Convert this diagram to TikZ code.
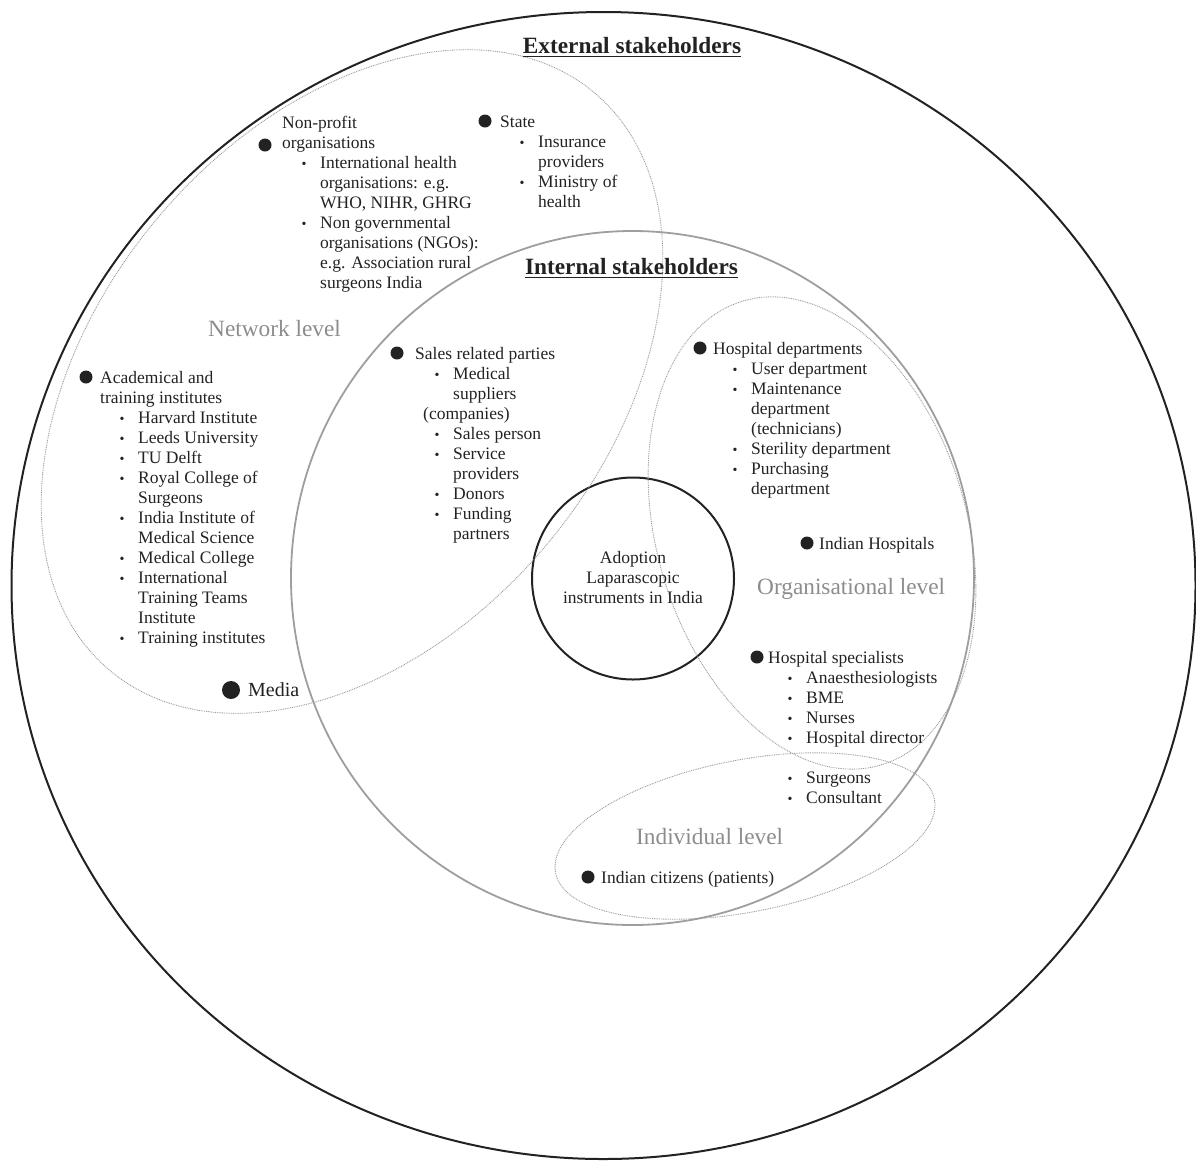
\documentclass[tikz,border=0pt]{standalone}
\usepackage{fontspec}
\setmainfont{Liberation Serif}
\definecolor{ink}{HTML}{222222}
\definecolor{levelgray}{HTML}{8C8C8C}
\definecolor{ringgray}{HTML}{9E9E9E}
\definecolor{dotgray}{HTML}{9C9C9C}
% small list bullet and indentation helpers
\newcommand\smallbullet{\raisebox{0pt}{\fontsize{14}{14}\selectfont\textbullet}}
\newcommand\itm{\strut\hspace*{19.5pt}\makebox[18.5pt][l]{\smallbullet}}
\newcommand\contline{\strut\hspace*{38pt}}
\begin{document}
\begin{tikzpicture}[x=1pt,y=-1pt,
  body/.style={font=\fontsize{17.5}{20}\selectfont, text=ink, inner sep=0pt, align=left, anchor=north west},
  single/.style={font=\fontsize{17.5}{20}\selectfont, text=ink, inner sep=0pt, anchor=base west},
  heading/.style={font=\fontsize{23.3}{26}\selectfont\bfseries, text=ink, inner sep=0pt, anchor=base},
  level/.style={font=\fontsize{23.3}{26}\selectfont, text=levelgray, inner sep=0pt, anchor=base west},
  dot/.style={circle, fill=ink, inner sep=0pt, minimum size=13pt},
  ring/.style={line width=2pt, draw=ink},
  zone/.style={draw=dotgray, line width=0.9pt, dash pattern=on 0.9pt off 0.9pt}
]
\useasboundingbox (0,0) rectangle (1196,1160);

% outer ring: external stakeholders
\draw[ring] (603.5,585.5) ellipse [x radius=592pt, y radius=573.5pt];
% internal stakeholders ring
\draw[draw=ringgray, line width=1.8pt] (632.5,578) ellipse [x radius=341.5pt, y radius=347pt];
% core
\draw[ring] (633,578.5) circle [radius=101pt];

% level zones
\draw[zone, rotate around={50:(352,381.5)}] (352,381.5) ellipse [x radius=377pt, y radius=254pt];
\draw[zone, rotate around={-73.4:(812,533)}] (812,533) ellipse [x radius=242pt, y radius=155pt];
\draw[zone, rotate around={11:(745,836)}] (745,836) ellipse [x radius=193pt, y radius=76pt];

% headings
\node[heading] (ext) at (632,53.5) {External stakeholders};
\draw[ink, line width=1.6pt] ([yshift=-3pt]ext.base west) -- ([yshift=-3pt]ext.base east);
\node[heading] (int) at (631.5,274.5) {Internal stakeholders};
\draw[ink, line width=1.6pt] ([yshift=-3pt]int.base west) -- ([yshift=-3pt]int.base east);

% level labels
\node[level] (netlvl) at (208,336.5) {Network level};
\node[level] (orglvl) at (757,594.5) {Organisational level};
\node[level] (indlvl) at (636,844.5) {Individual level};

% core text
\node[font=\fontsize{17.5}{20}\selectfont, text=ink, inner sep=0pt, align=center] (core) at (633,579)
  {\strut Adoption\\\strut Laparascopic\\\strut instruments in India};

% non-profit organisations
\node[dot] (npdot) at (265,145) {};
\node[body] (np) at (282,114) {\strut Non-profit\\\strut organisations\\
  \itm International health\\\contline organisations: e.g.\\\contline WHO, NIHR, GHRG\\
  \itm Non governmental\\\contline organisations (NGOs):\\\contline e.g. Association rural\\\contline surgeons India};

% state
\node[dot] (stdot) at (485,121) {};
\node[body] (st) at (500,113) {\strut State\\
  \itm Insurance\\\contline providers\\\itm Ministry of\\\contline health};

% academic institutes
\node[dot] (acdot) at (86,377) {};
\node[body] (ac) at (100,369) {\strut Academical and\\\strut training institutes\\
  \itm Harvard Institute\\\itm Leeds University\\\itm TU Delft\\
  \itm Royal College of\\\contline Surgeons\\\itm India Institute of\\\contline Medical Science\\
  \itm Medical College\\\itm International\\\contline Training Teams\\\contline Institute\\
  \itm Training institutes};

% media
\node[dot, minimum size=18pt] (mddot) at (231,690) {};
\node[single, font=\fontsize{20}{24}\selectfont] (md) at (248,696) {Media};

% sales related parties
\node[dot] (sldot) at (397,353) {};
\node[body] (sl) at (415,345) {\strut Sales related parties\\
  \itm Medical\\\contline suppliers\\\strut\hspace*{8pt}(companies)\\
  \itm Sales person\\\itm Service\\\contline providers\\\itm Donors\\\itm Funding\\\contline partners};

% hospital departments
\node[dot] (hddot) at (700,348) {};
\node[body] (hd) at (713,340) {\strut Hospital departments\\
  \itm User department\\\itm Maintenance\\\contline department\\\contline (technicians)\\
  \itm Sterility department\\\itm Purchasing\\\contline department};

% indian hospitals
\node[dot] (ihdot) at (807,543) {};
\node[single] (ih) at (819,549) {Indian Hospitals};

% hospital specialists
\node[dot] (hsdot) at (757,657) {};
\node[body] (hs) at (768,649) {\strut Hospital specialists\\
  \itm Anaesthesiologists\\\itm BME\\\itm Nurses\\\itm Hospital director\\\strut\\
  \itm Surgeons\\\itm Consultant};

% indian citizens
\node[dot] (icdot) at (588,877) {};
\node[single] (ic) at (601,883) {Indian citizens (patients)};
\end{tikzpicture}
\end{document}
